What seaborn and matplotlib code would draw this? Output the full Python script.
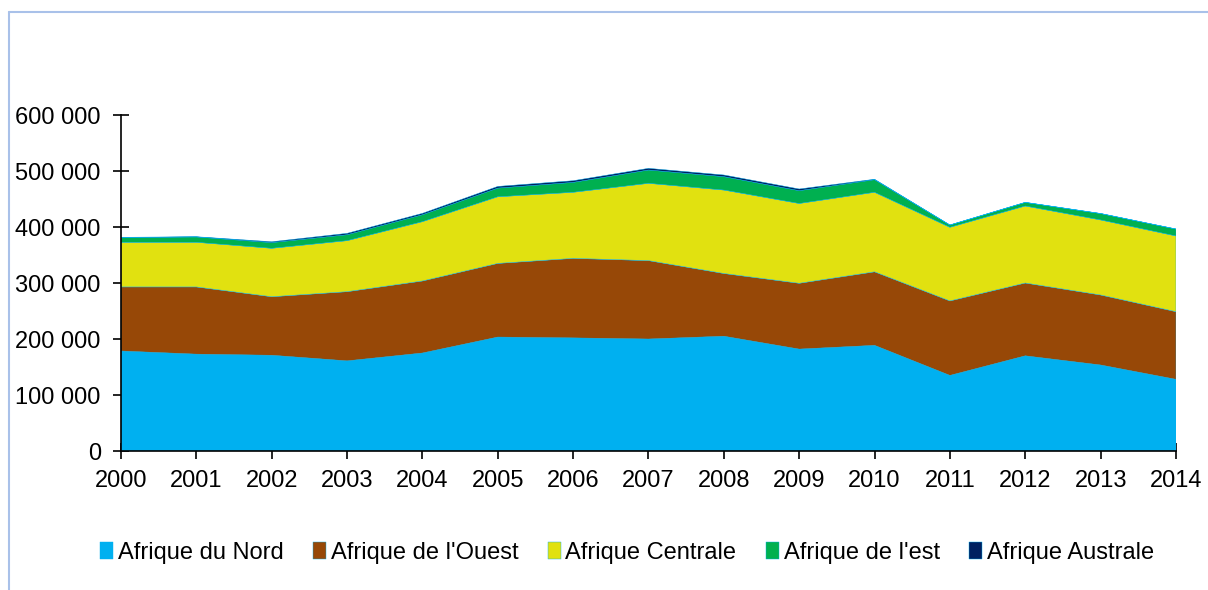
import matplotlib
matplotlib.use("Agg")
import matplotlib.pyplot as plt
from matplotlib.ticker import FuncFormatter, MultipleLocator
from matplotlib.lines import Line2D
import seaborn as sns
import numpy as np

years = list(range(2000, 2015))
nord = [178.6, 173, 171, 161, 175, 203.5, 202, 200, 205, 182, 188.7, 135, 170, 153.6, 128]
ouest = [114.4, 120, 104.5, 123.5, 128.6, 131.5, 142, 140, 112, 117.5, 131.3, 133, 130, 125, 120.8]
centrale = [79.7, 79.7, 86.5, 91.1, 105.9, 119, 118, 138, 149, 142.5, 142, 131.5, 137.5, 134, 135.2]
est = [8.4, 9.5, 10.2, 10.6, 12.4, 15.5, 17.7, 23.8, 23.9, 22.9, 22.5, 4.1, 6.5, 11.5, 12.4]
australe = [0.5, 0.5, 1.5, 2.5, 2.5, 3, 3, 3, 3, 3, 0.8, 0, 0, 0, 0]
labels = ["Afrique du Nord", "Afrique de l'Ouest", "Afrique Centrale", "Afrique de l'est", "Afrique Australe"]
colors = ["#00B0F0", "#974807", "#E1E110", "#00B050", "#002060"]

sns.set_theme(style="white")
plt.rcParams['font.family'] = ['Liberation Sans', 'DejaVu Sans']
plt.rcParams['text.color'] = 'black'

fig = plt.figure(figsize=(12.08, 5.90), dpi=100)
ax = fig.add_axes([121/1208, 1-451/590, (1176-121)/1208, (451-115)/590])

series = [np.array(s) * 1000 for s in (nord, ouest, centrale, est, australe)]
ax.stackplot(years, *series, colors=colors, labels=labels, linewidth=0.3,
             edgecolors=colors)

ax.set_xlim(2000, 2014)
ax.set_ylim(0, 600000)
ax.set_xticks(years)
ax.yaxis.set_major_locator(MultipleLocator(100000))
ax.yaxis.set_major_formatter(FuncFormatter(lambda v, p: f"{int(v):,}".replace(",", " ")))

for s in ["top", "right"]:
    ax.spines[s].set_visible(False)
for s in ["left", "bottom"]:
    ax.spines[s].set_color("black")
    ax.spines[s].set_linewidth(1.2)
    ax.spines[s].set_zorder(5)

ax.tick_params(axis="both", which="major", direction="inout", length=11, width=1.2,
               color="black", labelsize=17, labelcolor="black", bottom=True, left=True)
ax.tick_params(axis="x", pad=8)
ax.tick_params(axis="y", pad=9)
ax.grid(False)

leg = fig.legend(loc="center", bbox_to_anchor=(627/1208, 1-553/590), ncol=5, frameon=False,
                 fontsize=17, handlelength=0.55, handleheight=0.7, handletextpad=0.2,
                 columnspacing=1.25, borderaxespad=0)
for t in leg.get_texts():
    t.set_color("black")

border_color = "#A9C1E9"
fig.add_artist(Line2D([8.5/1208, 8.5/1208], [0, 1-12/590], color=border_color, lw=1.5,
                      transform=fig.transFigure))
fig.add_artist(Line2D([8.5/1208, 1], [1-12/590, 1-12/590], color=border_color, lw=1.5,
                      transform=fig.transFigure))

fig.savefig("out.png", dpi=100)
